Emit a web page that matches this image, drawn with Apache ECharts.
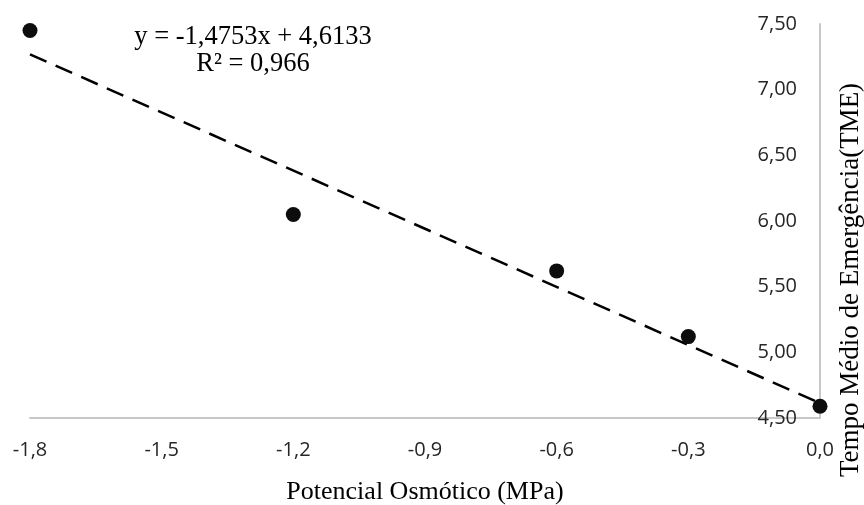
<!DOCTYPE html>
<html>
<head>
<meta charset="utf-8">
<script src="https://cdn.jsdelivr.net/npm/echarts@6/dist/echarts.min.js"></script>
<style>
html,body{margin:0;padding:0;background:#fff;}
#chart{width:864px;height:505px;}
</style>
</head>
<body>
<div id="chart"></div>
<script>
// Data
const potencialValues = [-1.8, -1.2, -0.6, -0.3, 0.0];
const tmeValues = [7.45, 6.05, 5.62, 5.12, 4.59];
const trendSlope = -1.4753;
const trendIntercept = 4.6133;
const trendRange = [-1.8, 0.0];
const equationLines = ['y = -1,4753x + 4,6133', 'R² = 0,966'];
const xAxisTitle = 'Potencial Osmótico (MPa)';
const yAxisTitle = 'Tempo Médio de Emergência(TME)';

const points = potencialValues.map((x, i) => [x, tmeValues[i]]);
const trendPoints = trendRange.map(x => [x, trendSlope * x + trendIntercept]);

const chart = echarts.init(document.getElementById('chart'), null, {renderer: 'canvas'});
const serif = '"Liberation Serif", "Times New Roman", serif';
const sans = '"Open Sans", "Liberation Sans", sans-serif';

chart.setOption({
  animation: false,
  backgroundColor: '#ffffff',
  grid: {left: 30, right: 44, top: 24, bottom: 87, containLabel: false, outerBoundsMode: 'none'},
  xAxis: {
    type: 'value', min: -1.8, max: 0, interval: 0.3,
    axisLine: {show: true, onZero: false, lineStyle: {color: '#c8c8c8', width: 2}},
    axisTick: {show: false},
    splitLine: {show: false},
    axisLabel: {
      margin: 22, color: '#262626', fontFamily: sans, fontSize: 20,
      formatter: v => v.toFixed(1).replace('-0.0', '0.0').replace('.', ',')
    },
    name: xAxisTitle, nameLocation: 'middle', nameGap: 61,
    nameTextStyle: {fontFamily: serif, fontSize: 26, color: '#000'}
  },
  yAxis: {
    type: 'value', min: 4.5, max: 7.5, interval: 0.5, position: 'right',
    axisLine: {show: true, onZero: false, lineStyle: {color: '#c8c8c8', width: 2}},
    axisTick: {show: false},
    splitLine: {show: false},
    axisLabel: {
      inside: true, margin: 23, color: '#262626', fontFamily: sans, fontSize: 20,
      formatter: v => v.toFixed(2).replace('.', ',')
    }
  },
  graphic: [
    {
      type: 'text', x: 253, y: 51, z: 10,
      style: {
        text: equationLines.join('\n'), font: '26.5px ' + serif, fill: '#000',
        align: 'center', verticalAlign: 'middle', lineHeight: 27
      }
    },
    {
      type: 'text', x: 851, y: 280, rotation: Math.PI / 2, z: 10,
      style: {
        text: yAxisTitle, font: '27px ' + serif, fill: '#000',
        align: 'center', verticalAlign: 'middle'
      }
    }
  ],
  series: [
    {
      type: 'line', data: trendPoints, showSymbol: false, symbol: 'none',
      lineStyle: {color: '#000', width: 2.5, type: [18, 10]},
      z: 2, silent: true
    },
    {
      type: 'scatter', data: points, symbol: 'circle', symbolSize: 15,
      itemStyle: {color: '#0d0d0d', opacity: 1}, z: 3
    }
  ]
});
</script>
</body>
</html>
